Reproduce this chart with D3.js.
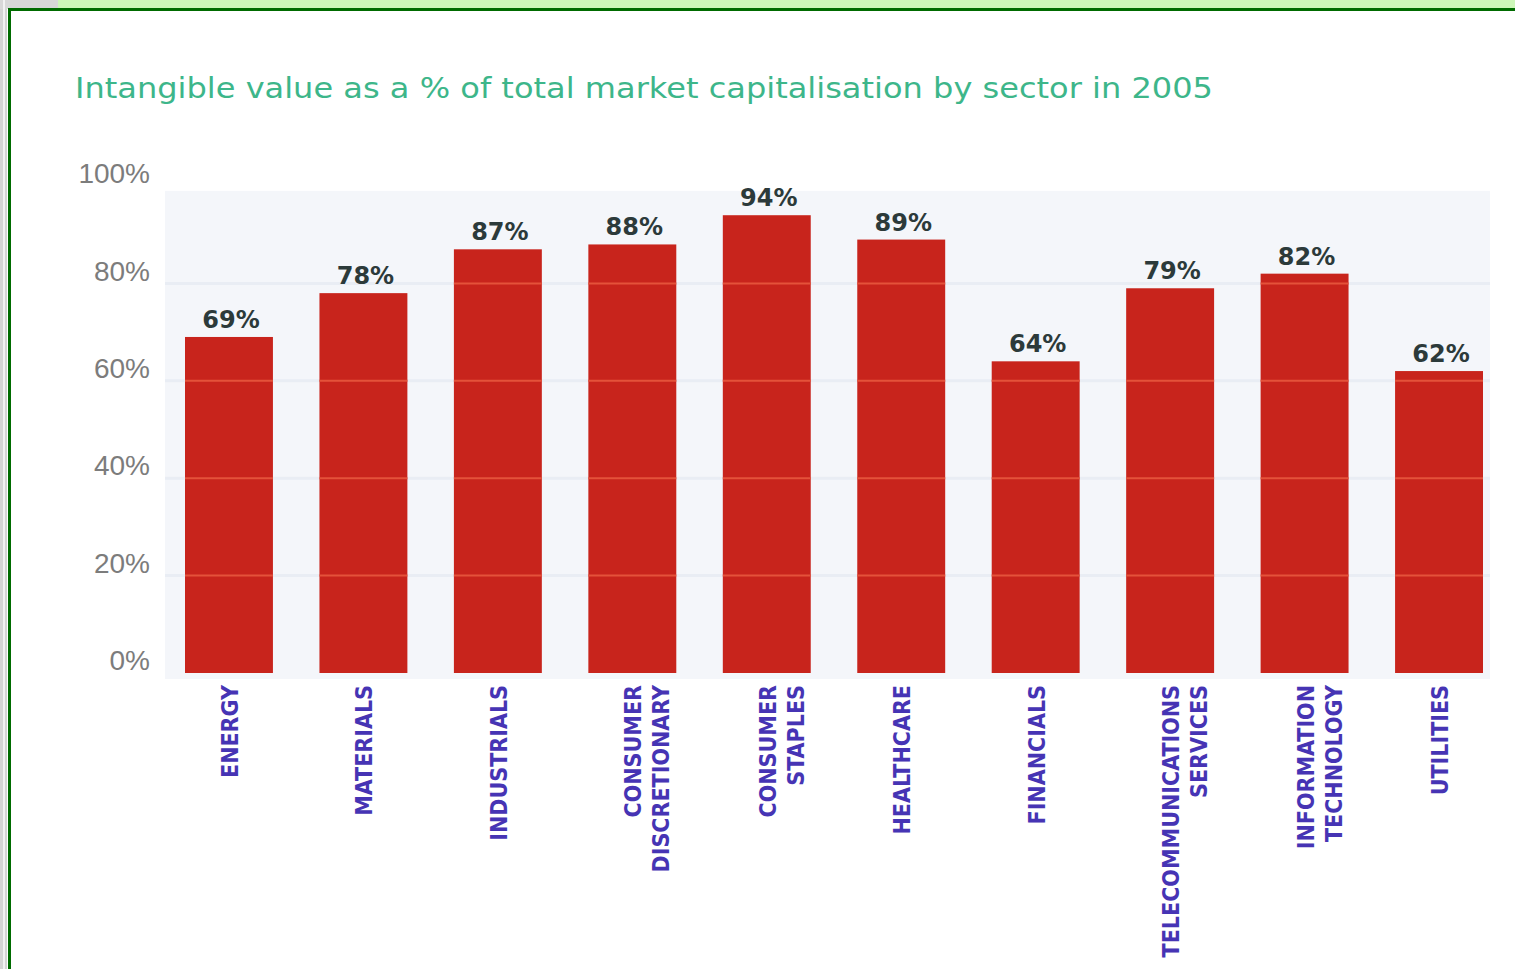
<!DOCTYPE html>
<html>
<head>
<meta charset="utf-8">
<script src="https://cdn.jsdelivr.net/npm/d3@7/dist/d3.min.js"></script>
<style>
  body { margin: 0; background: #ffffff; }
</style>
</head>
<body>
<script>
// DATA
var sectors = [
    ["ENERGY"],
    ["MATERIALS"],
    ["INDUSTRIALS"],
    ["CONSUMER", "DISCRETIONARY"],
    ["CONSUMER", "STAPLES"],
    ["HEALTHCARE"],
    ["FINANCIALS"],
    ["TELECOMMUNICATIONS", "SERVICES"],
    ["INFORMATION", "TECHNOLOGY"],
    ["UTILITIES"]
];
var values = [69, 78, 87, 88, 94, 89, 64, 79, 82, 62];
var yTicks = [0, 20, 40, 60, 80, 100];
var title = "Intangible value as a % of total market capitalisation by sector in 2005";

var w = 1515;
var h = 969;

var svg = d3.select("body")
    .append("svg")
    .attr("width", w)
    .attr("height", h);

// frame: light green strip, grey stripes, dark green border
svg.append("rect")
   .attr("x", 0).attr("y", 0)
   .attr("width", w).attr("height", 9)
   .attr("fill", "#cdf7b9");
svg.append("rect")
   .attr("x", 0).attr("y", 0)
   .attr("width", 7).attr("height", h)
   .attr("fill", "#d4d4d4");
svg.append("rect")
   .attr("x", 0).attr("y", 0)
   .attr("width", 58).attr("height", 9)
   .attr("fill", "#d8d8d8");
svg.append("rect")
   .attr("x", 3).attr("y", 0)
   .attr("width", 2).attr("height", h)
   .attr("fill", "#f2f2f2");
svg.append("rect")
   .attr("x", 8).attr("y", 9)
   .attr("width", 3).attr("height", h)
   .attr("fill", "#006b00");
svg.append("rect")
   .attr("x", 8).attr("y", 8)
   .attr("width", w).attr("height", 3)
   .attr("fill", "#006b00");

// title
svg.append("text")
   .attr("x", 75)
   .attr("y", 98)
   .attr("textLength", 1138)
   .attr("lengthAdjust", "spacingAndGlyphs")
   .attr("font-family", "DejaVu Sans")
   .attr("font-size", "29px")
   .attr("fill", "#3db68a")
   .text(title);

// scales
var x = d3.scaleBand()
    .domain(d3.range(values.length))
    .range([185, 1483])
    .paddingInner(0.346)
    .paddingOuter(0);

var y = d3.scaleLinear()
    .domain([0, 100])
    .range([673, 186]);

// faint background panel
svg.append("rect")
   .attr("x", 165)
   .attr("y", y(99))
   .attr("width", 1325)
   .attr("height", y(0) - y(99) + 6)
   .attr("fill", "#f4f6fa");

svg.selectAll("line.grid")
   .data(yTicks.slice(1, 5))
   .enter()
   .append("line")
   .attr("class", "grid")
   .attr("x1", 165)
   .attr("x2", 1490)
   .attr("y1", function(d) { return y(d); })
   .attr("y2", function(d) { return y(d); })
   .attr("stroke", "#e9edf4")
   .attr("stroke-width", 3);

// y axis
var yAxis = svg.append("g")
    .attr("transform", "translate(150,0)")
    .call(d3.axisLeft(y)
        .tickValues(yTicks)
        .tickSize(0)
        .tickPadding(0)
        .tickFormat(function(d) { return d + "%"; }));
yAxis.select(".domain").remove();
yAxis.selectAll("text")
     .attr("dy", "-0.12em")
     .attr("font-family", "Liberation Sans")
     .attr("font-size", "28px")
     .attr("fill", "#7c7c7c");

// bars
svg.selectAll("rect.bar")
   .data(values)
   .enter()
   .append("rect")
   .attr("class", "bar")
   .attr("x", function(d, i) { return x(i); })
   .attr("y", function(d) { return y(d); })
   .attr("width", x.bandwidth())
   .attr("height", function(d) { return y(0) - y(d); })
   .attr("fill", "#c8241c");

// lighter gridline stripes through the bars
values.forEach(function(v, i) {
    svg.selectAll(null)
       .data(yTicks.filter(function(t) { return t > 0 && t < v; }))
       .enter()
       .append("line")
       .attr("x1", x(i))
       .attr("x2", x(i) + x.bandwidth())
       .attr("y1", function(d) { return y(d); })
       .attr("y2", function(d) { return y(d); })
       .attr("stroke", "#e4523a")
       .attr("stroke-width", 2);
});

// value labels
svg.selectAll("text.val")
   .data(values)
   .enter()
   .append("text")
   .attr("class", "val")
   .attr("x", function(d, i) { return x(i) + x.bandwidth() / 2 + 2; })
   .attr("y", function(d) { return y(d) - 9; })
   .attr("text-anchor", "middle")
   .attr("font-family", "DejaVu Sans")
   .attr("font-weight", "bold")
   .attr("font-size", "24px")
   .attr("fill", "#2c3a3a")
   .text(function(d) { return d + "%"; });

// category labels, rotated, reading upwards
var cat = svg.selectAll("g.cat")
    .data(sectors)
    .enter()
    .append("g")
    .attr("class", "cat")
    .attr("transform", function(d, i) {
        return "translate(" + (x(i) + x.bandwidth() / 2 + 1) + ",685)";
    });

cat.selectAll("text")
   .data(function(d) { return d; })
   .enter()
   .append("text")
   .attr("transform", function(d, j) { return "translate(" + (j * 28) + ",0) rotate(-90)"; })
   .attr("text-anchor", "end")
   .attr("dominant-baseline", "central")
   .attr("font-family", "DejaVu Sans Condensed")
   .attr("font-weight", "bold")
   .attr("font-size", "23px")
   .attr("fill", "#4634b4")
   .text(function(d) { return d; });
</script>
</body>
</html>
